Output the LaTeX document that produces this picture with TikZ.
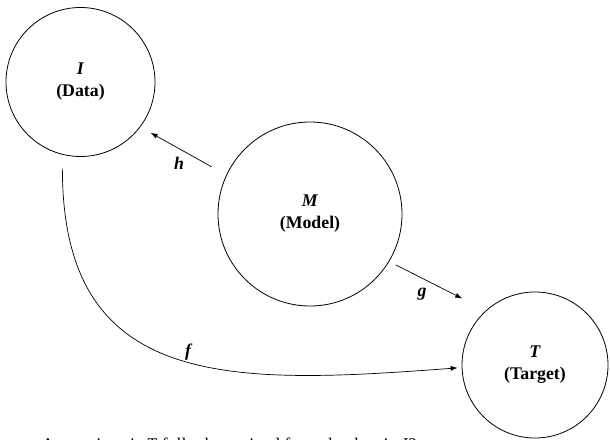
\documentclass[tikz,border=0pt]{standalone}
\usepackage{fontspec}
\setmainfont{Liberation Serif}
\usetikzlibrary{positioning, arrows.meta}

\begin{document}
\begin{tikzpicture}[
    % GLOBAL CFG
    x=1pt, y=-1pt,
    font=\fontsize{17.8}{22}\selectfont,
    >={Latex[length=7pt,width=5pt]},
    % Styles
    set/.style={% For the three sets
        circle,
        draw,
        line width=0.8pt,
        inner sep=0pt,
        align=center,
        font=\fontsize{17.8}{22}\selectfont\bfseries,
        },
    map/.style={% For the maps between the sets
        ->,
        line width=0.7pt,
        },
    maplabel/.style={% Names of the maps
        font=\fontsize{17.8}{22}\selectfont\bfseries\itshape,
        },
    ]

    \useasboundingbox (0,0) rectangle (610,439);
    \clip (0,0) rectangle (610,439);

%Start drawing the thing...
    % Draw the sets
    \node [set, minimum size=149pt] (I) at (80.5,82) {\textit{I}\\(Data)};
    \node [set, minimum size=184pt] (M) at (310,214) {\textit{M}\\(Model)};
    \node [set, minimum size=146pt] (T) at (535,365) {\textit{T}\\(Target)};

    % Draw the maps
    \draw [map, shorten <=16.8pt, shorten >=11.8pt] (M.155) -- (I.-37.5)
        node [maplabel, pos=0.55, below=5pt] (h) {h};
    \draw [map, shorten <=7.2pt, shorten >=26.5pt] (M.-31.3) -- (T.132.5)
        node [maplabel, pos=0.34, below=6pt] (g) {g};
    \draw [map, shorten <=14pt, shorten >=4pt] (I.-104.4)
        .. controls +(0,236) and +(-232,17.5) .. (T.182)
        node [maplabel, pos=0.53, above=-3pt] (f) {f};

    % The question below, cut by the lower edge
    \node [anchor=base west] (question) at (38,450.5)
        {A question: is \textit{T} fully determined from the data in \textit{I}?};

\end{tikzpicture}
\end{document}
